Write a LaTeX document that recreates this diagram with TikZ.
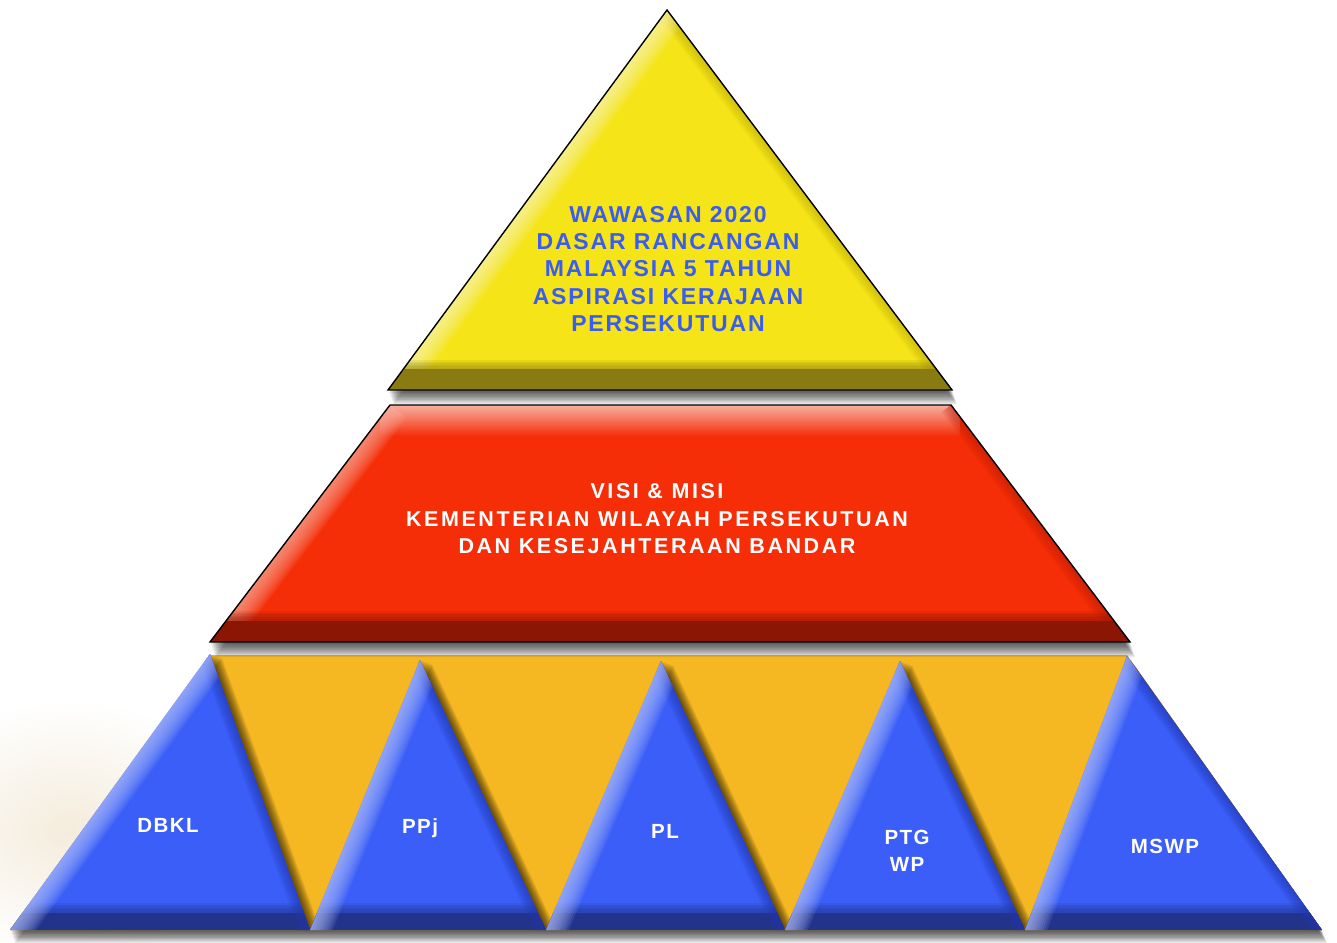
\documentclass[tikz,border=0pt]{standalone}
\usepackage{fontspec}
\setmainfont{Liberation Sans}
\usetikzlibrary{calc}
\definecolor{ymain}{RGB}{245,228,24}
\definecolor{ylight}{RGB}{253,248,185}
\definecolor{ydark}{RGB}{138,122,18}
\definecolor{yedge}{RGB}{190,175,10}
\definecolor{rmain}{RGB}{245,46,8}
\definecolor{rlight}{RGB}{248,175,160}
\definecolor{rdark}{RGB}{140,22,4}
\definecolor{redge}{RGB}{190,30,5}
\definecolor{omain}{RGB}{246,184,34}
\definecolor{bmain}{RGB}{58,94,247}
\definecolor{blight}{RGB}{175,190,250}
\definecolor{bdark}{RGB}{34,51,138}
\definecolor{bedge}{RGB}{35,58,180}
\definecolor{ytxt}{RGB}{58,92,240}
\definecolor{bgbeige}{RGB}{244,236,220}
\newcommand\dropshadow[4]{%
  \foreach \k in {1,...,10}{%
    \begin{scope}[shift={(\k*#2/10,\k*#3/10)}]
      \fill[black,opacity=#4] #1;
    \end{scope}}}
% soft stroke along an edge: colour, max width, opacity per layer, from, to
\newcommand\softedge[5]{%
  \foreach \j in {1,...,10}{%
    \draw[#1,opacity=#3,line width=\j*#2/10] #4--#5;}}
\newcommand\bluetri[4]{%
  \begin{scope}
    \clip (#1,#2)--(#3,930)--(#4,930)--cycle;
    \fill[bmain] (#3,#2) rectangle (#4,930);
    \foreach \j in {0,...,5}{\fill[bdark,opacity=.13] (#3,903+\j*1.6) rectangle (#4,930);}
    \fill[bdark] (#3,913) rectangle (#4,930);
    \softedge{bedge}{22pt}{.09}{(#1,#2)}{(#4,930)}
    \softedge{blight}{42pt}{.12}{(#1,#2)}{(#3,930)}
  \end{scope}}
\begin{document}
\begin{tikzpicture}[x=1pt,y=-1pt,
  ytextstyle/.style={text=ytxt,align=center,inner sep=0pt,
    font=\fontsize{23}{27.3}\selectfont\bfseries\addfontfeature{LetterSpace=8}},
  rtextstyle/.style={text=white,align=center,inner sep=0pt,
    font=\fontsize{21.5}{27.5}\selectfont\bfseries\addfontfeature{LetterSpace=12}},
  btextstyle/.style={text=white,align=center,inner sep=0pt,
    font=\fontsize{20.5}{27}\selectfont\bfseries\addfontfeature{LetterSpace=7}}]
\useasboundingbox (0,0) rectangle (1337,942);
\fill[white] (0,0) rectangle (1337,942);
% faint background swirl
\shade[inner color=bgbeige,outer color=white] (70,830) ellipse [x radius=180pt, y radius=130pt];
% bottom band shadow
\dropshadow{(210,655)--(1127,655)--(1322,930)--(10,930)--cycle}{5}{13}{0.09}
% orange band
\fill[omain] (210,655)--(1127,655)--(1322,930)--(10,930)--cycle;
% shadows of blue triangles on orange
\begin{scope}
  \clip (210,655)--(1127,655)--(1322,930)--(10,930)--cycle;
  \foreach \ax/\ay/\lx/\rx in {210/654/10/310,420/660/310/546,661/661/546/785,900/661/785/1025,1127/656/1025/1322}{
    \foreach \k in {1,...,10}{
      \begin{scope}[shift={(\k*1.2,\k*0.4)}]
        \fill[black,opacity=0.075] (\ax,\ay)--(\lx,930)--(\rx,930)--cycle;
      \end{scope}}}
\end{scope}
% blue triangles
\bluetri{210}{654}{10}{310}
\bluetri{420}{660}{310}{546}
\bluetri{661}{661}{546}{785}
\bluetri{900}{661}{785}{1025}
\bluetri{1127}{656}{1025}{1322}
% red trapezoid
\dropshadow{(390,405)--(951,405)--(1130,642)--(210,642)--cycle}{5}{15}{0.09}
\begin{scope}
  \clip (390,405)--(951,405)--(1130,642)--(210,642)--cycle;
  \fill[rmain] (210,405) rectangle (1130,642);
  \shade[top color=rlight,bottom color=rmain] (380,405) rectangle (960,436);
  \softedge{redge}{24pt}{.08}{(951,405)}{(1130,642)}
  \softedge{rlight}{42pt}{.11}{(390,405)}{(210,642)}
  \foreach \j in {0,...,5}{\fill[rdark,opacity=.13] (210,611+\j*1.6) rectangle (1130,642);}
  \fill[rdark] (210,621) rectangle (1130,642);
\end{scope}
\draw[black,line width=1.4pt,line join=miter] (390,405)--(951,405)--(1130,642)--(210,642)--cycle;
% yellow triangle
\dropshadow{(667,10)--(952,390)--(388,390)--cycle}{5}{14}{0.09}
\begin{scope}
  \clip (667,10)--(952,390)--(388,390)--cycle;
  \fill[ymain] (388,10) rectangle (952,390);
  \softedge{yedge}{22pt}{.08}{(667,10)}{(952,390)}
  \softedge{ylight}{42pt}{.11}{(667,10)}{(388,390)}
  \foreach \j in {0,...,5}{\fill[ydark,opacity=.13] (388,360+\j*1.6) rectangle (952,390);}
  \fill[ydark] (388,369) rectangle (952,390);
\end{scope}
\draw[black,line width=1.4pt,line join=miter] (667,10)--(952,390)--(388,390)--cycle;
% texts
\node[ytextstyle] (wawasan) at (668,269) {WAWASAN 2020\\DASAR RANCANGAN\\MALAYSIA 5 TAHUN\\ASPIRASI KERAJAAN\\PERSEKUTUAN};
\node[rtextstyle] (visi) at (657,519) {VISI \& MISI\\KEMENTERIAN WILAYAH PERSEKUTUAN\\DAN KESEJAHTERAAN BANDAR};
\node[btextstyle,anchor=base] (dbkl) at (168,832) {DBKL};
\node[btextstyle,anchor=base] (ppj) at (420,833) {PPj};
\node[btextstyle,anchor=base] (pl) at (665,838) {PL};
\node[btextstyle] (ptg) at (907,851) {PTG\\WP};
\node[btextstyle,anchor=base] (mswp) at (1165,853) {MSWP};
\end{tikzpicture}
\end{document}
